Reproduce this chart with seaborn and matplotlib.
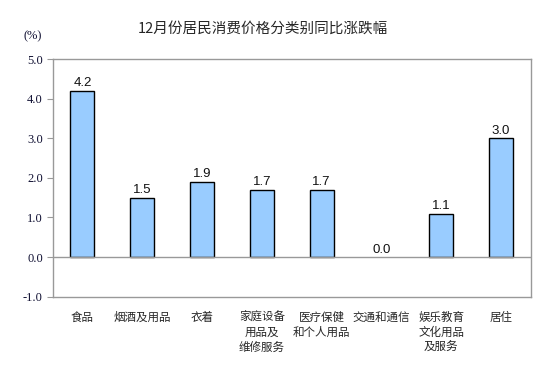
import matplotlib
matplotlib.use("Agg")
import matplotlib.pyplot as plt
import pandas as pd
import seaborn as sns

categories = [
    "食品",
    "烟酒及用品",
    "衣着",
    "家庭设备\n用品及\n维修服务",
    "医疗保健\n和个人用品",
    "交通和通信",
    "娱乐教育\n文化用品\n及服务",
    "居住",
]
values = [4.2, 1.5, 1.9, 1.7, 1.7, 0.0, 1.1, 3.0]
yticks = [-1.0, 0.0, 1.0, 2.0, 3.0, 4.0, 5.0]
title = "12月份居民消费价格分类别同比涨跌幅"

df = pd.DataFrame({"category": categories, "value": values})

sns.set_style("white")
plt.rcParams["font.family"] = ["Noto Sans CJK SC", "DejaVu Sans"]

W, H = 555, 377
fig = plt.figure(figsize=(W / 100, H / 100), dpi=100)
ax = fig.add_axes([52.5 / W, 1 - 296.7 / H, 478.5 / W, (296.7 - 59) / H])

sns.barplot(data=df, x="category", y="value", color="#99CCFF",
            edgecolor="black", linewidth=1.0, width=0.4, saturation=1, ax=ax)

for c in ax.containers:
    for p in c.patches:
        if p.get_height() == 0:
            p.set_edgecolor("none")
    ax.bar_label(c, fmt="%.1f", padding=1, fontsize=9.5,
                 family=["Liberation Sans", "DejaVu Sans"], color="#111111")

ax.axhline(0, color="#999999", linewidth=1.0, zorder=3)
ax.set_ylim(-1.0, 5.0)
ax.set_xlim(-0.5, len(categories) - 0.5)
ax.set_yticks(yticks)
ax.set_yticklabels([f"{t:.1f}" for t in yticks])
ax.tick_params(axis="y", length=4, width=0.8, color="#999999", pad=3, left=True)
ax.tick_params(axis="x", length=0, pad=10)
for lbl in ax.get_yticklabels():
    lbl.set_fontfamily(["Liberation Serif", "DejaVu Serif"])
    lbl.set_fontsize(9)
    lbl.set_color("#111133")
for lbl in ax.get_xticklabels():
    lbl.set_fontsize(8.3)
    lbl.set_multialignment("center")
    lbl.set_linespacing(1.2)
for s in ax.spines.values():
    s.set_color("#999999")
    s.set_linewidth(1.0)
ax.set_xlabel(None)
ax.set_ylabel(None)

fig.text(263 / W, 1 - 29 / H, title, ha="center", va="center", fontsize=10.5,
         fontweight="medium")
fig.text(33 / W, 1 - 36 / H, "(%)", ha="center", va="center", fontsize=9,
         family=["Liberation Serif", "DejaVu Serif"], color="#111133")

fig.savefig("out.png", dpi=100)
